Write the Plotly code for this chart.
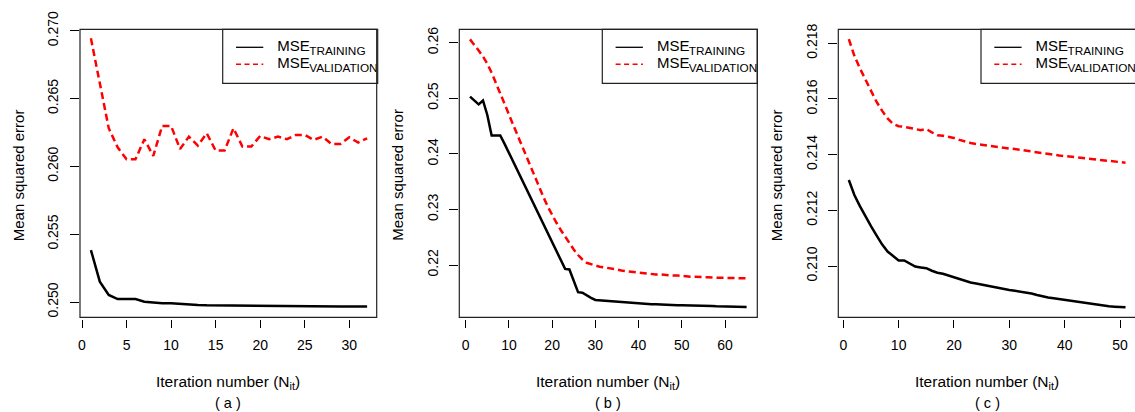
import plotly.graph_objects as go

# ---------------- data ----------------
iters_a = list(range(1, 33))
train_a = [0.25383, 0.25150, 0.25052, 0.25022, 0.25022, 0.25022, 0.25002, 0.24995,
           0.24990, 0.24990, 0.24985, 0.24980, 0.24978, 0.24976, 0.24975, 0.24975,
           0.24973, 0.24972, 0.24972, 0.24971, 0.24970, 0.24970, 0.24969, 0.24969,
           0.24968, 0.24968, 0.24968, 0.24967, 0.24967, 0.24967, 0.24966, 0.24966]
valid_a = [0.26944, 0.26613, 0.26281, 0.26140, 0.26052, 0.26052, 0.26200, 0.26077,
           0.26298, 0.26298, 0.26128, 0.26219, 0.26153, 0.26244, 0.26116, 0.26116,
           0.26281, 0.26146, 0.26146, 0.26224, 0.26200, 0.26219, 0.26200, 0.26232,
           0.26232, 0.26195, 0.26219, 0.26165, 0.26165, 0.26214, 0.26175, 0.26207]

iters_b = list(range(1, 66))
train_b = [0.2503, 0.2496, 0.2489, 0.2496, 0.2470, 0.2433, 0.2433, 0.2433,
           0.2418, 0.2402, 0.2385, 0.2369, 0.2353, 0.2337, 0.2321, 0.2305,
           0.2289, 0.2273, 0.2257, 0.2241, 0.2225, 0.2209, 0.2193, 0.2192,
           0.2170, 0.2151, 0.2150, 0.2145, 0.2141, 0.21372, 0.21366, 0.21360,
           0.21354, 0.21342, 0.21336, 0.21330, 0.21318, 0.21312, 0.21312, 0.21306,
           0.21300, 0.21300, 0.21294, 0.21294, 0.21288, 0.21288, 0.21282, 0.21282,
           0.21276, 0.21276, 0.21276, 0.21270, 0.21270, 0.21270, 0.21264, 0.21264,
           0.21264, 0.21258, 0.21258, 0.21258, 0.21252, 0.21252, 0.21252, 0.21246,
           0.21246]
valid_b = [0.2606, 0.2597, 0.2586, 0.2575, 0.2562, 0.2546, 0.2528, 0.2508,
           0.2490, 0.2471, 0.2452, 0.2433, 0.2414, 0.2395, 0.2376, 0.2358,
           0.2340, 0.2322, 0.2305, 0.2290, 0.2276, 0.2263, 0.2251, 0.2239,
           0.2228, 0.2218, 0.2210, 0.2204, 0.2201, 0.2199, 0.2197, 0.2196,
           0.2195, 0.2193, 0.2192, 0.2190, 0.2189, 0.2188, 0.2187, 0.2186,
           0.2186, 0.2185, 0.2184, 0.2183, 0.2183, 0.2182, 0.2182, 0.2181,
           0.2181, 0.2180, 0.2180, 0.2179, 0.2179, 0.2178, 0.2178, 0.2178,
           0.2177, 0.2177, 0.2177, 0.2177, 0.2176, 0.2176, 0.2176, 0.2176,
           0.2176]

iters_c = list(range(1, 52))
train_c = [0.21309, 0.21255, 0.21215, 0.21178, 0.21143, 0.21110, 0.21078, 0.21052,
           0.21035, 0.21020, 0.21020, 0.21008, 0.20998, 0.20995, 0.20992, 0.20983,
           0.20976, 0.20972, 0.20966, 0.20960, 0.20953, 0.20946, 0.20941, 0.20937,
           0.20933, 0.20929, 0.20924, 0.20920, 0.20917, 0.20914, 0.20911, 0.20908,
           0.20905, 0.20901, 0.20896, 0.20891, 0.20887, 0.20884, 0.20881, 0.20878,
           0.20876, 0.20873, 0.20871, 0.20867, 0.20863, 0.20860, 0.20857, 0.20855,
           0.20854, 0.20853, 0.20852]
valid_c = [0.21815, 0.21755, 0.21710, 0.21670, 0.21625, 0.21590, 0.21558, 0.21530,
           0.21510, 0.21502, 0.21500, 0.21497, 0.21492, 0.21488, 0.21492, 0.21480,
           0.21470, 0.21468, 0.21465, 0.21460, 0.21453, 0.21447, 0.21442, 0.21438,
           0.21435, 0.21432, 0.21429, 0.21427, 0.21425, 0.21422, 0.21420, 0.21417,
           0.21414, 0.21411, 0.21407, 0.21404, 0.21401, 0.21399, 0.21397, 0.21395,
           0.21393, 0.21391, 0.21389, 0.21386, 0.21383, 0.21381, 0.21379, 0.21377,
           0.21375, 0.21373, 0.21371]

xticks_a = [0, 5, 10, 15, 20, 25, 30]
yticks_a = [0.250, 0.255, 0.260, 0.265, 0.270]
ylabels_a = ["0.250", "0.255", "0.260", "0.265", "0.270"]
xticks_b = [0, 10, 20, 30, 40, 50, 60]
yticks_b = [0.22, 0.23, 0.24, 0.25, 0.26]
ylabels_b = ["0.22", "0.23", "0.24", "0.25", "0.26"]
xticks_c = [0, 10, 20, 30, 40, 50]
yticks_c = [0.210, 0.212, 0.214, 0.216, 0.218]
ylabels_c = ["0.210", "0.212", "0.214", "0.216", "0.218"]
panel_tags = ["( a )", "( b )", "( c )"]
x_title = "Iteration number (N<sub>it</sub>)"
y_title = "Mean squared error"
leg_main = ["MSE", "MSE"]
leg_sub = ["TRAINING", "VALIDATION"]

# ---------------- layout geometry (pixels) ----------------
W, H = 1135, 412
FONT = "Liberation Sans, Arial, sans-serif"
TOP, BOT = 29.3, 317.3

panels = [
    dict(L=80.0, R=376.7, xc=(82.0, 0, 349.3, 30), yc=(302.0, 0.250, 30.7, 0.270),
         x=iters_a, tr=train_a, va=valid_a, xt=xticks_a, yt=yticks_a, yl=ylabels_a,
         ytx=18.0, legL=222.7),
    dict(L=459.3, R=757.3, xc=(465.7, 0, 725.0, 60), yc=(265.0, 0.22, 42.7, 0.26),
         x=iters_b, tr=train_b, va=valid_b, xt=xticks_b, yt=yticks_b, yl=ylabels_b,
         ytx=397.5, legL=602.3),
    dict(L=838.3, R=1135.0, xc=(843.3, 0, 1120.0, 50), yc=(266.0, 0.210, 43.3, 0.218),
         x=iters_c, tr=train_c, va=valid_c, xt=xticks_c, yt=yticks_c, yl=ylabels_c,
         ytx=776.0, legL=981.0),
]

def PX(px):
    return px / W

def PY(py):
    return 1 - py / H

fig = go.Figure()
shapes = []
annotations = []

for i, p in enumerate(panels):
    n = "" if i == 0 else str(i + 1)
    xa, ya = "x" + n, "y" + n
    (xp0, xv0, xp1, xv1) = p["xc"]
    sx = (xv1 - xv0) / (xp1 - xp0)
    def xv(px, xp0=xp0, xv0=xv0, sx=sx):
        return xv0 + (px - xp0) * sx
    (yp0, yv0, yp1, yv1) = p["yc"]
    sy = (yv1 - yv0) / (yp1 - yp0)
    def yv(py, yp0=yp0, yv0=yv0, sy=sy):
        return yv0 + (py - yp0) * sy

    xr = [xv(p["L"]), xv(p["R"])]
    yr = [yv(BOT), yv(TOP)]

    fig.add_trace(go.Scatter(x=p["x"], y=p["tr"], mode="lines", xaxis=xa, yaxis=ya,
                             line=dict(color="black", width=2.5), showlegend=False))
    fig.add_trace(go.Scatter(x=p["x"], y=p["va"], mode="lines", xaxis=xa, yaxis=ya,
                             line=dict(color="#ff0000", width=2.5, dash="7px,4px"),
                             showlegend=False))

    # legend text (clipped at the plot box like the original)
    legL = p["legL"]
    fig.add_trace(go.Scatter(x=[xv(legL + 54.6)] * 2, y=[yv(47.0), yv(64.7)],
                             mode="text", text=leg_main,
                             textposition="middle right", cliponaxis=True,
                             textfont=dict(family=FONT, size=15, color="black"),
                             xaxis=xa, yaxis=ya, showlegend=False, hoverinfo="skip"))
    fig.add_trace(go.Scatter(x=[xv(legL + 86.5)] * 2, y=[yv(51.7), yv(69.4)],
                             mode="text", text=leg_sub,
                             textposition="middle right", cliponaxis=True,
                             textfont=dict(family=FONT, size=11.8, color="black"),
                             xaxis=xa, yaxis=ya, showlegend=False, hoverinfo="skip"))

    axkw = dict(showgrid=False, zeroline=False, showline=False, ticks="outside",
                tickcolor="black", tickwidth=1, automargin=False,
                tickfont=dict(family=FONT, size=14, color="black"))
    fig.layout["xaxis" + n] = dict(domain=[PX(p["L"]), PX(p["R"])], range=xr,
                                   anchor="free", position=PY(319.0),
                                   tickvals=p["xt"], ticklen=8, ticklabelstandoff=5,
                                   **axkw)
    fig.layout["yaxis" + n] = dict(domain=[PY(BOT), PY(TOP)], range=yr, anchor=xa,
                                   tickvals=p["yt"], ticktext=p["yl"], tickangle=-90,
                                   ticklen=9, ticklabelstandoff=6, **axkw)

    boxR = p["R"] if i < 2 else 1137.0
    shapes.append(dict(type="rect", xref="paper", yref="paper", x0=PX(p["L"]), x1=PX(boxR),
                       y0=PY(BOT), y1=PY(TOP), line=dict(color="#222", width=1.2),
                       layer="above"))
    shapes.append(dict(type="rect", xref="paper", yref="paper", x0=PX(legL), x1=PX(legL + 155),
                       y0=PY(83.3), y1=PY(TOP), line=dict(color="#222", width=1.2),
                       fillcolor="white", layer="below"))
    shapes.append(dict(type="line", xref="paper", yref="paper", x0=PX(legL + 13.3),
                       x1=PX(legL + 40.6), y0=PY(47.3), y1=PY(47.3),
                       line=dict(color="black", width=1.3)))
    shapes.append(dict(type="line", xref="paper", yref="paper", x0=PX(legL + 13.3),
                       x1=PX(legL + 40.6), y0=PY(64.3), y1=PY(64.3),
                       line=dict(color="#ff0000", width=1.6, dash="5px,3.5px")))

    cx = (p["L"] + (p["R"] if i < 2 else 1136.4)) / 2
    annotations.append(dict(text=x_title, xref="paper", yref="paper", x=PX(cx), y=PY(382),
                            showarrow=False, xanchor="center", yanchor="middle",
                            font=dict(family=FONT, size=15.5, color="black")))
    annotations.append(dict(text=panel_tags[i], xref="paper", yref="paper", x=PX(cx), y=PY(403),
                            showarrow=False, xanchor="center", yanchor="middle",
                            font=dict(family=FONT, size=14.5, color="black")))
    annotations.append(dict(text=y_title, xref="paper", yref="paper", x=PX(p["ytx"]),
                            y=PY((TOP + BOT) / 2 + 2), textangle=-90, showarrow=False,
                            xanchor="center", yanchor="middle",
                            font=dict(family=FONT, size=15, color="black")))

fig.update_layout(width=W, height=H, margin=dict(l=0, r=0, t=0, b=0, pad=0, autoexpand=False),
                  paper_bgcolor="white", plot_bgcolor="white", title=None,
                  shapes=shapes, annotations=annotations, showlegend=False)

fig.write_html("out.html")
